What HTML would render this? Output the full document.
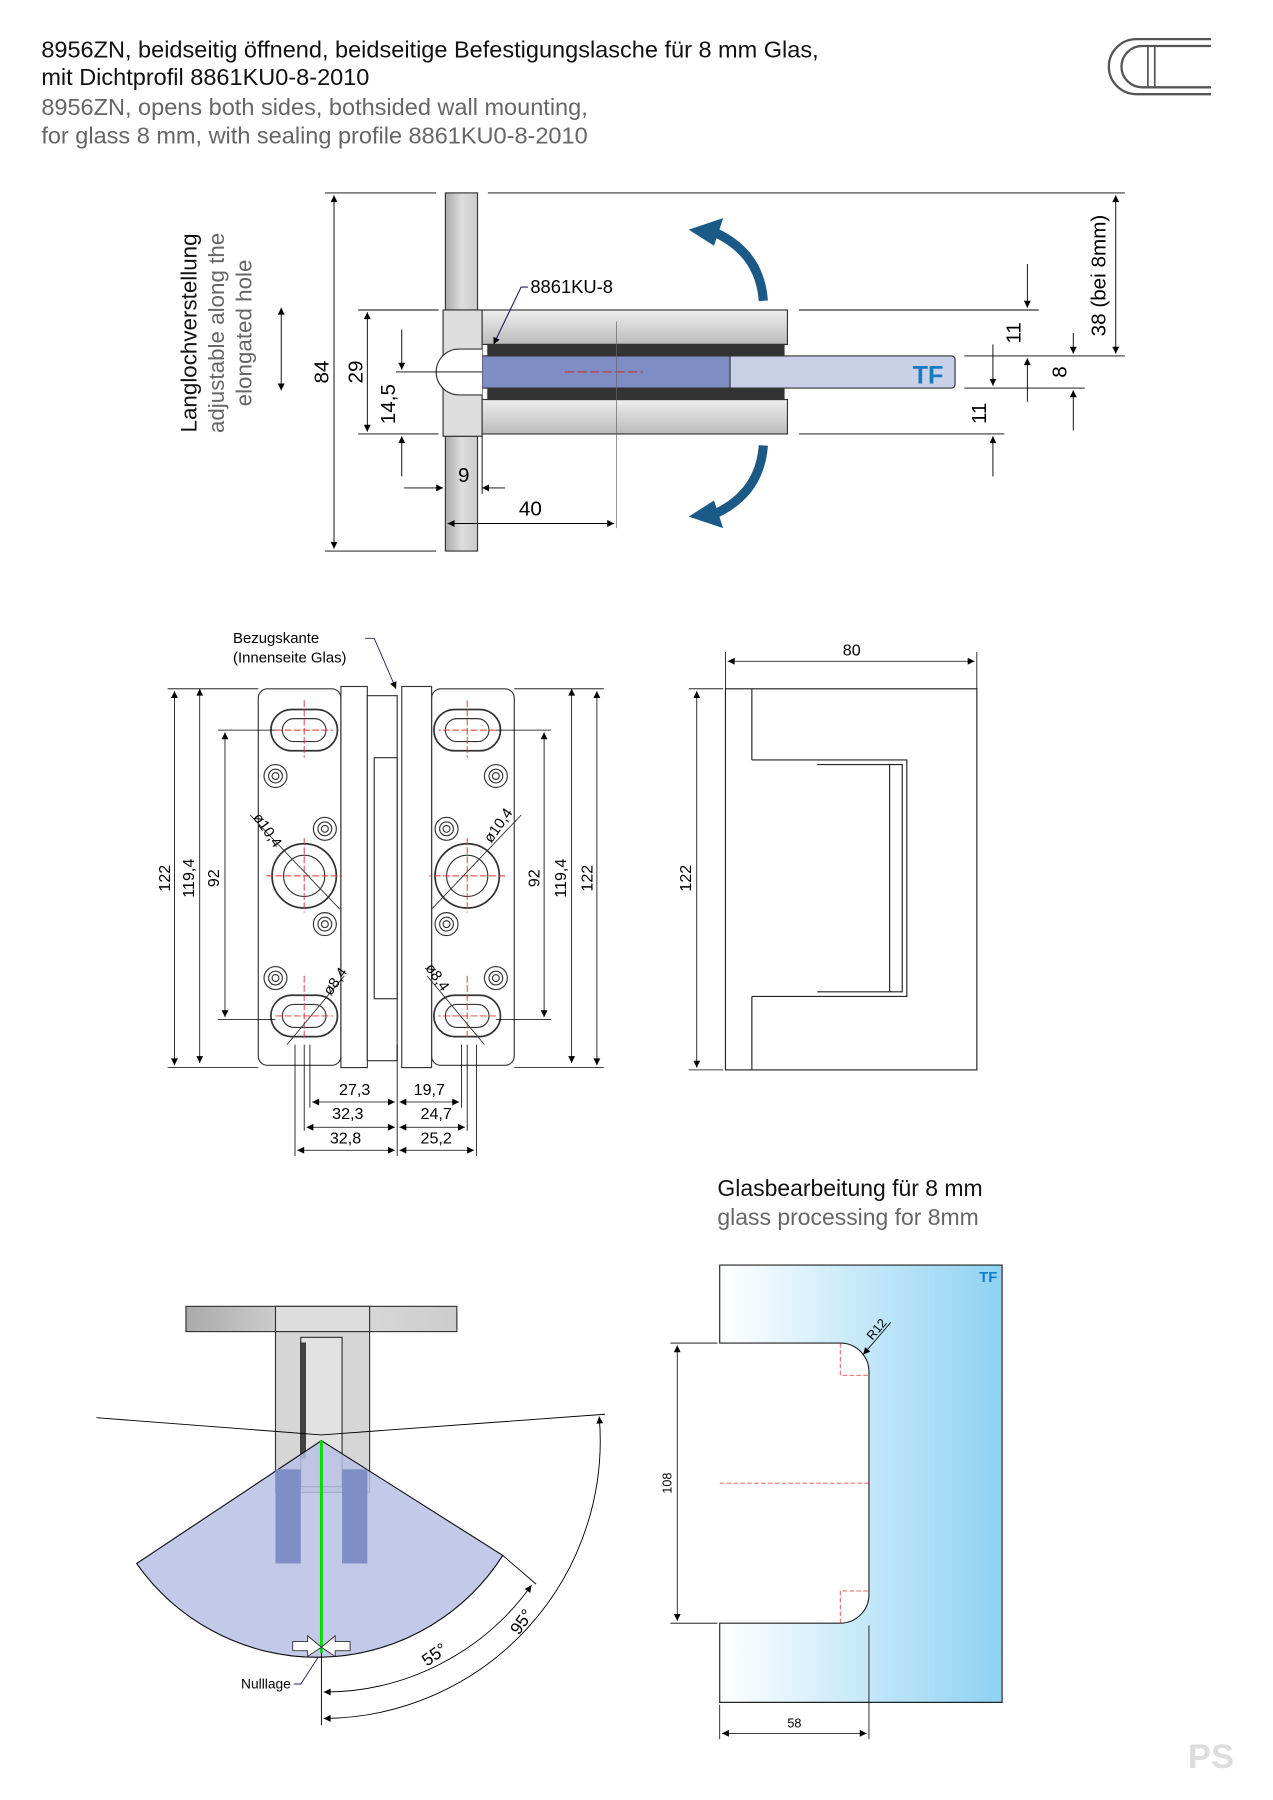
<!DOCTYPE html>
<html><head><meta charset="utf-8"><style>
html,body{margin:0;padding:0;background:#fff}
svg{display:block}
text{font-family:"Liberation Sans",sans-serif}
</style></head><body>
<svg width="1273" height="1800" viewBox="0 0 1109 1568" xmlns="http://www.w3.org/2000/svg">
<defs>
<linearGradient id="mg" x1="0" x2="0" y1="0" y2="1"><stop offset="0" stop-color="#eee"/><stop offset="1" stop-color="#bbb"/></linearGradient>
<linearGradient id="mh" x1="0" x2="1" y1="0" y2="0"><stop offset="0" stop-color="#aaa"/><stop offset="0.5" stop-color="#ddd"/><stop offset="1" stop-color="#ccc"/></linearGradient>
<linearGradient id="gl" x1="0" x2="1" y1="0" y2="0"><stop offset="0" stop-color="#fff"/><stop offset="1" stop-color="#8ed2f3"/></linearGradient>
<marker id="a" viewBox="0 0 10 10" refX="10" refY="5" markerWidth="14" markerHeight="6" orient="auto-start-reverse" markerUnits="userSpaceOnUse"><path d="M0,0 L10,5 L0,10z" fill="#000"/></marker>
</defs>
<g font-size="20.5">
<text x="36" y="50" fill="#111">8956ZN, beidseitig öffnend, beidseitige Befestigungslasche für 8 mm Glas,</text>
<text x="36" y="74" fill="#111">mit Dichtprofil 8861KU0-8-2010</text>
<text x="36" y="100" fill="#666">8956ZN, opens both sides, bothsided wall mounting,</text>
<text x="36" y="125" fill="#666">for glass 8 mm, with sealing profile 8861KU0-8-2010</text>
</g>
<path d="M1055,34 H990 A24,24 0 0 0 990,82 H1055 M1055,40 H995 A18,18 0 0 0 995,76 H1055" fill="none" stroke="#555" stroke-width="2"/>
<path d="M1000,40 V76 M1006,40V76" stroke="#555" stroke-width="1.5"/>

<!-- TOP DRAWING -->
<g stroke="#333" stroke-width="1">
<rect x="388" y="168" width="28" height="102" fill="url(#mh)"/>
<rect x="388" y="380" width="28" height="100" fill="url(#mh)"/>
<rect x="386" y="270" width="34" height="110" fill="#ddd"/>
<rect x="420" y="270" width="266" height="30" fill="url(#mg)"/>
<rect x="420" y="348" width="266" height="30" fill="url(#mg)"/>
<rect x="425" y="300" width="258" height="10" fill="#333"/>
<rect x="425" y="338" width="258" height="10" fill="#333"/>
<rect x="420" y="310" width="412" height="28" rx="3" fill="#c9d0e8"/>
<rect x="420" y="310" width="216" height="28" fill="#7e8ec4"/>
<path d="M420,304 H400 A14,14 0 0 0 400,344 H420" fill="#fff"/>
</g>
<text x="795" y="334" font-size="22" font-weight="bold" fill="#1a7ac0">TF</text>
<line x1="492" y1="324" x2="560" y2="324" stroke="#c33" stroke-dasharray="8,3"/>
<line x1="537" y1="280" x2="537" y2="460" stroke="#666" stroke-width="0.6"/>
<text x="462" y="255" font-size="16">8861KU-8</text>
<path d="M460,250 H454 L430,300" stroke="#226" fill="none" marker-end="url(#a)"/>
<path d="M665,262 Q662,220 622,202" stroke="#1b5a87" stroke-width="8" fill="none"/>
<path d="M600,200 L630,190 L622,214z" fill="#1b5a87"/>
<path d="M665,388 Q662,430 622,448" stroke="#1b5a87" stroke-width="8" fill="none"/>
<path d="M600,450 L630,460 L622,436z" fill="#1b5a87"/>
<g stroke="#000" stroke-width="0.8" fill="none">
<line x1="283" y1="168" x2="380" y2="168"/><line x1="425" y1="168" x2="980" y2="168"/>
<line x1="283" y1="480" x2="380" y2="480"/>
<line x1="291" y1="170" x2="291" y2="478" marker-start="url(#a)" marker-end="url(#a)"/>
<line x1="312" y1="270" x2="382" y2="270"/><line x1="312" y1="378" x2="382" y2="378"/>
<line x1="320" y1="272" x2="320" y2="376" marker-start="url(#a)" marker-end="url(#a)"/>
<line x1="345" y1="324" x2="420" y2="324"/>
<line x1="350" y1="287" x2="350" y2="322" marker-end="url(#a)"/><line x1="350" y1="415" x2="350" y2="380" marker-end="url(#a)"/>
<line x1="352" y1="425" x2="386" y2="425" marker-end="url(#a)"/><line x1="440" y1="425" x2="420" y2="425" marker-end="url(#a)"/>
<line x1="420" y1="380" x2="420" y2="430"/>
<line x1="390" y1="456" x2="535" y2="456" marker-start="url(#a)" marker-end="url(#a)"/>
<line x1="696" y1="270" x2="905" y2="270"/><line x1="696" y1="378" x2="875" y2="378"/>
<line x1="840" y1="310" x2="980" y2="310"/><line x1="840" y1="338" x2="945" y2="338"/>
<line x1="972" y1="170" x2="972" y2="308" marker-start="url(#a)" marker-end="url(#a)"/>
<line x1="895" y1="230" x2="895" y2="268" marker-end="url(#a)"/><line x1="895" y1="350" x2="895" y2="312" marker-end="url(#a)"/>
<line x1="935" y1="290" x2="935" y2="308" marker-end="url(#a)"/><line x1="935" y1="375" x2="935" y2="340" marker-end="url(#a)"/>
<line x1="865" y1="300" x2="865" y2="336" marker-end="url(#a)"/><line x1="865" y1="415" x2="865" y2="380" marker-end="url(#a)"/>
<line x1="245" y1="268" x2="245" y2="340" marker-start="url(#a)" marker-end="url(#a)"/>
</g>
<g font-size="18">
<text transform="translate(286,324) rotate(-90)" text-anchor="middle">84</text>
<text transform="translate(316,324) rotate(-90)" text-anchor="middle">29</text>
<text transform="translate(344,352) rotate(-90)" text-anchor="middle">14,5</text>
<text x="404" y="420" text-anchor="middle">9</text>
<text x="462" y="449" text-anchor="middle">40</text>
<text transform="translate(963,240) rotate(-90)" text-anchor="middle">38 (bei 8mm)</text>
<text transform="translate(889,290) rotate(-90)" text-anchor="middle">11</text>
<text transform="translate(929,324) rotate(-90)" text-anchor="middle">8</text>
<text transform="translate(859,360) rotate(-90)" text-anchor="middle">11</text>
<text transform="translate(171,290) rotate(-90)" text-anchor="middle" fill="#111" font-size="19.5">Langlochverstellung</text>
<text transform="translate(195,290) rotate(-90)" text-anchor="middle" fill="#666" font-size="19.5">adjustable along the</text>
<text transform="translate(219,290) rotate(-90)" text-anchor="middle" fill="#666" font-size="19.5">elongated hole</text>
</g>

<!-- FRONT VIEW -->
<g stroke="#333" stroke-width="1" fill="#fff">
<rect x="225" y="600" width="72" height="328" rx="8"/>
<rect x="376" y="600" width="72" height="328" rx="8"/>
<rect x="297" y="598" width="23" height="332"/>
<rect x="320" y="606" width="26" height="318"/>
<rect x="350" y="598" width="26" height="332"/>
<rect x="326" y="660" width="20" height="210"/>
</g>
<g stroke="#333" fill="none">
<g id="holes">
<rect x="236" y="618" width="58" height="36" rx="18" stroke-width="1.5"/><rect x="246" y="626" width="38" height="20" rx="10"/>
<rect x="236" y="867" width="58" height="36" rx="18" stroke-width="1.5"/><rect x="246" y="875" width="38" height="20" rx="10"/>
<circle cx="265" cy="763" r="28" stroke-width="1.5"/><circle cx="265" cy="763" r="18"/>
<circle cx="240" cy="676" r="10"/><circle cx="240" cy="676" r="6"/><circle cx="240" cy="676" r="3"/>
<circle cx="283" cy="722" r="10"/><circle cx="283" cy="722" r="6"/><circle cx="283" cy="722" r="3"/>
<circle cx="283" cy="805" r="10"/><circle cx="283" cy="805" r="6"/><circle cx="283" cy="805" r="3"/>
<circle cx="240" cy="852" r="10"/><circle cx="240" cy="852" r="6"/><circle cx="240" cy="852" r="3"/>
<path d="M265,610V660 M240,636H290 M265,850V905 M240,885H290 M265,730V795 M232,763H298" stroke="#d33" stroke-dasharray="6,2" stroke-width="0.8"/>
<line x1="218" y1="710" x2="296" y2="792" stroke-width="0.8"/>
<line x1="250" y1="910" x2="300" y2="850" stroke-width="0.8"/>
</g>
<use href="#holes" transform="translate(672,0) scale(-1,1)"/>
</g>
<g font-size="13">
<text transform="translate(220,712) rotate(55)">ø10,4</text>
<text transform="translate(428,735) rotate(-55)">ø10,4</text>
<text transform="translate(288,868) rotate(-55)">ø8,4</text>
<text transform="translate(370,843) rotate(55)">ø8,4</text>
<text x="203" y="560">Bezugskante</text>
<text x="203" y="577">(Innenseite Glas)</text>
</g>
<path d="M318,556 H326 L345,600" stroke="#226" fill="none" marker-end="url(#a)" stroke-width="0.8"/>
<g stroke="#000" stroke-width="0.7" fill="none">
<line x1="146" y1="600" x2="225" y2="600"/><line x1="146" y1="930" x2="225" y2="930"/>
<line x1="190" y1="636" x2="240" y2="636"/><line x1="190" y1="888" x2="240" y2="888"/>
<line x1="152" y1="602" x2="152" y2="928" marker-start="url(#a)" marker-end="url(#a)"/>
<line x1="174" y1="600" x2="174" y2="926" marker-start="url(#a)" marker-end="url(#a)"/>
<line x1="196" y1="638" x2="196" y2="886" marker-start="url(#a)" marker-end="url(#a)"/>
<line x1="448" y1="600" x2="526" y2="600"/><line x1="448" y1="930" x2="526" y2="930"/>
<line x1="432" y1="636" x2="480" y2="636"/><line x1="432" y1="888" x2="480" y2="888"/>
<line x1="520" y1="602" x2="520" y2="928" marker-start="url(#a)" marker-end="url(#a)"/>
<line x1="498" y1="600" x2="498" y2="926" marker-start="url(#a)" marker-end="url(#a)"/>
<line x1="474" y1="638" x2="474" y2="886" marker-start="url(#a)" marker-end="url(#a)"/>
<line x1="257" y1="910" x2="257" y2="1007"/><line x1="346" y1="910" x2="346" y2="1007"/>
<line x1="415" y1="910" x2="415" y2="1007"/><line x1="265" y1="910" x2="265" y2="985"/>
<line x1="270" y1="910" x2="270" y2="965"/><line x1="402" y1="910" x2="402" y2="965"/><line x1="407" y1="910" x2="407" y2="985"/>
<line x1="272" y1="960" x2="344" y2="960" marker-start="url(#a)" marker-end="url(#a)"/>
<line x1="348" y1="960" x2="400" y2="960" marker-start="url(#a)" marker-end="url(#a)"/>
<line x1="267" y1="982" x2="344" y2="982" marker-start="url(#a)" marker-end="url(#a)"/>
<line x1="348" y1="982" x2="405" y2="982" marker-start="url(#a)" marker-end="url(#a)"/>
<line x1="259" y1="1002" x2="344" y2="1002" marker-start="url(#a)" marker-end="url(#a)"/>
<line x1="348" y1="1002" x2="413" y2="1002" marker-start="url(#a)" marker-end="url(#a)"/>
</g>
<g font-size="14" text-anchor="middle">
<text transform="translate(148,765) rotate(-90)">122</text>
<text transform="translate(169,765) rotate(-90)">119,4</text>
<text transform="translate(191,765) rotate(-90)">92</text>
<text transform="translate(516,765) rotate(-90)">122</text>
<text transform="translate(493,765) rotate(-90)">119,4</text>
<text transform="translate(470,765) rotate(-90)">92</text>
<text x="309" y="954">27,3</text><text x="374" y="954">19,7</text>
<text x="303" y="975">32,3</text><text x="380" y="975">24,7</text>
<text x="301" y="996">32,8</text><text x="380" y="996">25,2</text>
<text x="742" y="571">80</text>
<text transform="translate(602,765) rotate(-90)">122</text>
</g>

<!-- SIDE VIEW -->
<g stroke="#222" stroke-width="1" fill="#fff">
<rect x="632" y="600" width="219" height="332"/>
<line x1="655" y1="600" x2="655" y2="662"/><line x1="655" y1="868" x2="655" y2="932"/>
<path d="M655,662 H790 V868 H655" /><path d="M712,666 H786 V864 H712"/><line x1="775" y1="666" x2="775" y2="864"/>
</g>
<g stroke="#000" stroke-width="0.7">
<line x1="632" y1="568" x2="632" y2="600"/><line x1="851" y1="568" x2="851" y2="600"/>
<line x1="634" y1="576" x2="849" y2="576" marker-start="url(#a)" marker-end="url(#a)"/>
<line x1="600" y1="600" x2="630" y2="600"/><line x1="600" y1="932" x2="630" y2="932"/>
<line x1="607" y1="602" x2="607" y2="930" marker-start="url(#a)" marker-end="url(#a)"/>
</g>

<!-- GLASS PROCESSING -->
<text x="625" y="1042" font-size="20" fill="#111">Glasbearbeitung für 8 mm</text>
<text x="625" y="1067" font-size="20" fill="#666">glass processing for 8mm</text>
<path d="M627,1102 H873 V1483 H627 V1414 H732 A25,25 0 0 0 757,1389 V1195 A25,25 0 0 0 732,1170 H627 Z" fill="url(#gl)" stroke="#222"/>
<text x="853" y="1117" font-size="13" font-weight="bold" fill="#1a7ac0">TF</text>
<path d="M732,1170V1198H757 M732,1414V1386H757 M627,1292H757" stroke="#d33" stroke-dasharray="4,2" stroke-width="0.7" fill="none"/>
<line x1="776" y1="1152" x2="752" y2="1180" stroke="#000" stroke-width="0.7" marker-end="url(#a)"/>
<text transform="translate(760,1168) rotate(-50)" font-size="11">R12</text>
<g stroke="#000" stroke-width="0.7">
<line x1="584" y1="1170" x2="625" y2="1170"/><line x1="584" y1="1414" x2="625" y2="1414"/>
<line x1="590" y1="1172" x2="590" y2="1412" marker-start="url(#a)" marker-end="url(#a)"/>
<line x1="627" y1="1485" x2="627" y2="1515"/><line x1="757" y1="1416" x2="757" y2="1515"/>
<line x1="629" y1="1510" x2="755" y2="1510" marker-start="url(#a)" marker-end="url(#a)"/>
</g>
<text transform="translate(585,1292) rotate(-90)" font-size="11" text-anchor="middle">108</text>
<text x="692" y="1505" font-size="11" text-anchor="middle">58</text>

<!-- BOTTOM LEFT -->
<g stroke="#333" stroke-width="1">
<rect x="162" y="1138" width="236" height="22" fill="url(#mh)"/>
<rect x="240" y="1138" width="82" height="22" fill="#ddd"/>
<rect x="240" y="1160" width="82" height="140" fill="#d6d6d6"/>
<rect x="262" y="1165" width="36" height="130" fill="#e2e2e2"/>
<rect x="262" y="1170" width="4" height="100" fill="#444"/>
</g>
<path d="M280,1255 L119,1362 A192,192 0 0 0 438,1355 Z" fill="#b7c0e5" fill-opacity="0.85" stroke="#111"/>
<rect x="240" y="1280" width="22" height="82" fill="#7e8ec7"/>
<rect x="298" y="1280" width="22" height="82" fill="#7e8ec7"/>
<line x1="280" y1="1255" x2="280" y2="1440" stroke="#0d0" stroke-width="2.5"/>
<path d="M84,1235 L280,1250 L527,1232" stroke="#000" fill="none" stroke-width="0.8"/>
<path d="M255,1430 H268 V1425 L280,1435 L268,1443 V1438 H255 Z M305,1430 H292 V1425 L280,1435 L292,1443 V1438 H305 Z" fill="#fff" stroke="#333" stroke-width="0.8"/>
<g stroke="#000" stroke-width="0.8" fill="none">
<line x1="280" y1="1440" x2="280" y2="1503"/>
<line x1="438" y1="1355" x2="467" y2="1380"/>
<path d="M282,1474 A222,222 0 0 0 463,1381" marker-start="url(#a)" marker-end="url(#a)"/>
<path d="M282,1497 A242,242 0 0 0 522,1234" marker-start="url(#a)" marker-end="url(#a)"/>
<path d="M256,1467 H262 L277,1444" stroke="#226"/>
</g>
<text transform="translate(372,1452) rotate(-35)" font-size="15">55°</text>
<text transform="translate(452,1425) rotate(-55)" font-size="15">95°</text>
<text x="210" y="1471" font-size="12">Nulllage</text>
<text x="1035" y="1540" font-size="30" font-weight="bold" fill="#ddd">PS</text>
</svg>
</body></html>
